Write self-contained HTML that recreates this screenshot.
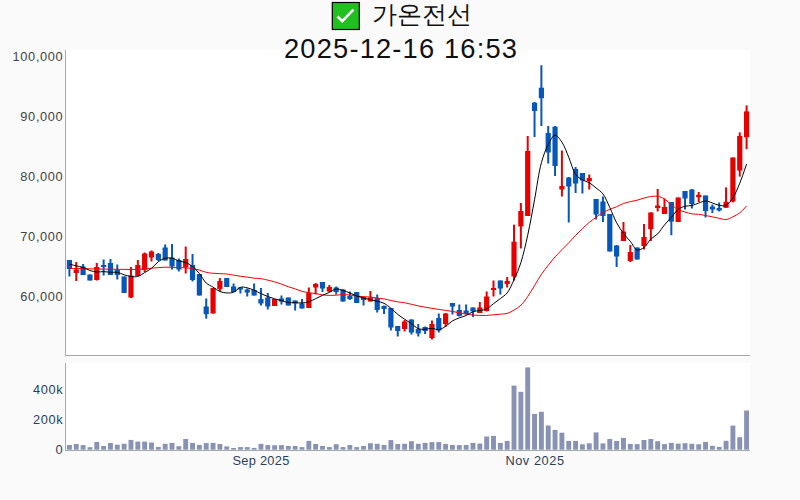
<!DOCTYPE html>
<html><head><meta charset="utf-8">
<style>
html,body{margin:0;padding:0;background:#fafafa;}
body{width:800px;height:500px;overflow:hidden;position:relative;font-family:"Liberation Sans",sans-serif;}
svg{position:absolute;left:0;top:0;}

</style></head><body>
<svg width="800" height="500" viewBox="0 0 800 500">
<rect x="0" y="0" width="800" height="500" fill="#fafafa"/>
<rect x="66" y="50" width="684" height="305" fill="#ffffff"/>
<rect x="66" y="363" width="684" height="87" fill="#ffffff"/>
<g shape-rendering="crispEdges">
<rect x="65" y="50" width="1" height="306" fill="#a8a8a8"/>
<rect x="65" y="355" width="685" height="1" fill="#a8a8a8"/>
<rect x="65" y="363" width="1" height="88" fill="#a8a8a8"/>
<rect x="65" y="450" width="685" height="1" fill="#a8a8a8"/>
</g>
<g fill="#8892b5">
<rect x="66.97" y="445.00" width="4.9" height="4.70"/>
<rect x="73.81" y="444.00" width="4.9" height="5.70"/>
<rect x="80.65" y="445.10" width="4.9" height="4.60"/>
<rect x="87.49" y="447.20" width="4.9" height="2.50"/>
<rect x="94.33" y="442.00" width="4.9" height="7.70"/>
<rect x="101.17" y="446.00" width="4.9" height="3.70"/>
<rect x="108.01" y="443.00" width="4.9" height="6.70"/>
<rect x="114.85" y="444.70" width="4.9" height="5.00"/>
<rect x="121.69" y="443.80" width="4.9" height="5.90"/>
<rect x="128.53" y="439.90" width="4.9" height="9.80"/>
<rect x="135.37" y="441.60" width="4.9" height="8.10"/>
<rect x="142.21" y="441.60" width="4.9" height="8.10"/>
<rect x="149.05" y="442.50" width="4.9" height="7.20"/>
<rect x="155.89" y="446.90" width="4.9" height="2.80"/>
<rect x="162.73" y="443.80" width="4.9" height="5.90"/>
<rect x="169.57" y="442.90" width="4.9" height="6.80"/>
<rect x="176.41" y="446.20" width="4.9" height="3.50"/>
<rect x="183.25" y="439.00" width="4.9" height="10.70"/>
<rect x="190.09" y="442.90" width="4.9" height="6.80"/>
<rect x="196.93" y="444.90" width="4.9" height="4.80"/>
<rect x="203.77" y="443.10" width="4.9" height="6.60"/>
<rect x="210.61" y="442.90" width="4.9" height="6.80"/>
<rect x="217.45" y="444.00" width="4.9" height="5.70"/>
<rect x="224.29" y="446.40" width="4.9" height="3.30"/>
<rect x="231.13" y="448.00" width="4.9" height="1.70"/>
<rect x="237.97" y="447.10" width="4.9" height="2.60"/>
<rect x="244.81" y="447.10" width="4.9" height="2.60"/>
<rect x="251.65" y="447.90" width="4.9" height="1.80"/>
<rect x="258.49" y="443.80" width="4.9" height="5.90"/>
<rect x="265.33" y="445.10" width="4.9" height="4.60"/>
<rect x="272.17" y="445.30" width="4.9" height="4.40"/>
<rect x="279.01" y="445.10" width="4.9" height="4.60"/>
<rect x="285.85" y="446.00" width="4.9" height="3.70"/>
<rect x="292.69" y="446.00" width="4.9" height="3.70"/>
<rect x="299.53" y="447.10" width="4.9" height="2.60"/>
<rect x="306.37" y="440.90" width="4.9" height="8.80"/>
<rect x="313.21" y="444.00" width="4.9" height="5.70"/>
<rect x="320.05" y="446.00" width="4.9" height="3.70"/>
<rect x="326.89" y="447.10" width="4.9" height="2.60"/>
<rect x="333.73" y="444.20" width="4.9" height="5.50"/>
<rect x="340.57" y="447.10" width="4.9" height="2.60"/>
<rect x="347.41" y="445.00" width="4.9" height="4.70"/>
<rect x="354.25" y="447.10" width="4.9" height="2.60"/>
<rect x="361.09" y="446.00" width="4.9" height="3.70"/>
<rect x="367.93" y="443.20" width="4.9" height="6.50"/>
<rect x="374.77" y="443.80" width="4.9" height="5.90"/>
<rect x="381.61" y="445.00" width="4.9" height="4.70"/>
<rect x="388.45" y="440.10" width="4.9" height="9.60"/>
<rect x="395.29" y="444.00" width="4.9" height="5.70"/>
<rect x="402.13" y="443.80" width="4.9" height="5.90"/>
<rect x="408.97" y="441.20" width="4.9" height="8.50"/>
<rect x="415.81" y="443.80" width="4.9" height="5.90"/>
<rect x="422.65" y="442.90" width="4.9" height="6.80"/>
<rect x="429.49" y="442.10" width="4.9" height="7.60"/>
<rect x="436.33" y="442.10" width="4.9" height="7.60"/>
<rect x="443.17" y="444.00" width="4.9" height="5.70"/>
<rect x="450.01" y="445.00" width="4.9" height="4.70"/>
<rect x="456.85" y="445.10" width="4.9" height="4.60"/>
<rect x="463.69" y="445.00" width="4.9" height="4.70"/>
<rect x="470.53" y="442.90" width="4.9" height="6.80"/>
<rect x="477.37" y="443.60" width="4.9" height="6.10"/>
<rect x="484.21" y="436.50" width="4.9" height="13.20"/>
<rect x="491.05" y="435.90" width="4.9" height="13.80"/>
<rect x="497.89" y="442.90" width="4.9" height="6.80"/>
<rect x="504.73" y="440.90" width="4.9" height="8.80"/>
<rect x="511.57" y="385.60" width="4.9" height="64.10"/>
<rect x="518.41" y="391.80" width="4.9" height="57.90"/>
<rect x="525.25" y="367.40" width="4.9" height="82.30"/>
<rect x="532.09" y="413.90" width="4.9" height="35.80"/>
<rect x="538.93" y="411.80" width="4.9" height="37.90"/>
<rect x="545.77" y="425.50" width="4.9" height="24.20"/>
<rect x="552.61" y="429.90" width="4.9" height="19.80"/>
<rect x="559.45" y="432.70" width="4.9" height="17.00"/>
<rect x="566.29" y="440.90" width="4.9" height="8.80"/>
<rect x="573.13" y="440.90" width="4.9" height="8.80"/>
<rect x="579.97" y="444.30" width="4.9" height="5.40"/>
<rect x="586.81" y="443.30" width="4.9" height="6.40"/>
<rect x="593.65" y="432.40" width="4.9" height="17.30"/>
<rect x="600.49" y="443.40" width="4.9" height="6.30"/>
<rect x="607.33" y="439.00" width="4.9" height="10.70"/>
<rect x="614.17" y="441.00" width="4.9" height="8.70"/>
<rect x="621.01" y="437.90" width="4.9" height="11.80"/>
<rect x="627.85" y="443.90" width="4.9" height="5.80"/>
<rect x="634.69" y="444.10" width="4.9" height="5.60"/>
<rect x="641.53" y="440.00" width="4.9" height="9.70"/>
<rect x="648.37" y="439.00" width="4.9" height="10.70"/>
<rect x="655.21" y="441.20" width="4.9" height="8.50"/>
<rect x="662.05" y="444.10" width="4.9" height="5.60"/>
<rect x="668.89" y="442.90" width="4.9" height="6.80"/>
<rect x="675.73" y="443.60" width="4.9" height="6.10"/>
<rect x="682.57" y="443.20" width="4.9" height="6.50"/>
<rect x="689.41" y="443.80" width="4.9" height="5.90"/>
<rect x="696.25" y="444.30" width="4.9" height="5.40"/>
<rect x="703.09" y="441.90" width="4.9" height="7.80"/>
<rect x="709.93" y="445.80" width="4.9" height="3.90"/>
<rect x="716.77" y="446.90" width="4.9" height="2.80"/>
<rect x="723.61" y="440.80" width="4.9" height="8.90"/>
<rect x="730.45" y="425.60" width="4.9" height="24.10"/>
<rect x="737.29" y="437.20" width="4.9" height="12.50"/>
<rect x="744.13" y="410.50" width="4.9" height="39.20"/>
</g>
<g>
<rect x="68.42" y="260.00" width="2" height="16.50" fill="#0757ba"/>
<rect x="66.82" y="260.00" width="5.2" height="9.00" fill="#0757ba"/>
<rect x="75.26" y="262.00" width="2" height="19.00" fill="#e60000"/>
<rect x="73.66" y="269.50" width="5.2" height="3.50" fill="#e60000"/>
<rect x="82.10" y="264.00" width="2" height="11.00" fill="#0757ba"/>
<rect x="80.50" y="266.50" width="5.2" height="8.50" fill="#0757ba"/>
<rect x="88.94" y="274.50" width="2" height="6.00" fill="#0757ba"/>
<rect x="87.34" y="274.50" width="5.2" height="6.00" fill="#0757ba"/>
<rect x="95.78" y="263.00" width="2" height="17.50" fill="#e60000"/>
<rect x="94.18" y="267.00" width="5.2" height="13.00" fill="#e60000"/>
<rect x="102.62" y="259.50" width="2" height="16.00" fill="#0757ba"/>
<rect x="101.02" y="265.00" width="5.2" height="2.00" fill="#0757ba"/>
<rect x="109.46" y="259.00" width="2" height="16.00" fill="#0757ba"/>
<rect x="107.86" y="263.00" width="5.2" height="12.00" fill="#0757ba"/>
<rect x="116.30" y="264.50" width="2" height="15.00" fill="#0757ba"/>
<rect x="114.70" y="270.00" width="5.2" height="5.00" fill="#0757ba"/>
<rect x="123.14" y="276.50" width="2" height="16.50" fill="#0757ba"/>
<rect x="121.54" y="276.50" width="5.2" height="16.50" fill="#0757ba"/>
<rect x="129.98" y="267.00" width="2" height="31.00" fill="#e60000"/>
<rect x="128.38" y="275.50" width="5.2" height="22.00" fill="#e60000"/>
<rect x="136.82" y="260.00" width="2" height="16.00" fill="#e60000"/>
<rect x="135.22" y="265.00" width="5.2" height="11.00" fill="#e60000"/>
<rect x="143.66" y="252.50" width="2" height="19.50" fill="#e60000"/>
<rect x="142.06" y="253.50" width="5.2" height="16.50" fill="#e60000"/>
<rect x="150.50" y="250.50" width="2" height="11.00" fill="#e60000"/>
<rect x="148.90" y="251.50" width="5.2" height="6.00" fill="#e60000"/>
<rect x="157.34" y="253.00" width="2" height="8.00" fill="#0757ba"/>
<rect x="155.74" y="254.00" width="5.2" height="6.00" fill="#0757ba"/>
<rect x="164.18" y="244.50" width="2" height="16.00" fill="#0757ba"/>
<rect x="162.58" y="247.50" width="5.2" height="13.00" fill="#0757ba"/>
<rect x="171.02" y="244.00" width="2" height="25.50" fill="#0757ba"/>
<rect x="169.42" y="257.50" width="5.2" height="9.00" fill="#0757ba"/>
<rect x="177.86" y="258.50" width="2" height="13.00" fill="#0757ba"/>
<rect x="176.26" y="260.00" width="5.2" height="9.50" fill="#0757ba"/>
<rect x="184.70" y="246.50" width="2" height="27.00" fill="#e60000"/>
<rect x="183.10" y="259.00" width="5.2" height="8.50" fill="#e60000"/>
<rect x="191.54" y="254.00" width="2" height="27.50" fill="#0757ba"/>
<rect x="189.94" y="265.00" width="5.2" height="15.00" fill="#0757ba"/>
<rect x="198.38" y="274.00" width="2" height="21.50" fill="#0757ba"/>
<rect x="196.78" y="274.00" width="5.2" height="21.50" fill="#0757ba"/>
<rect x="205.22" y="298.40" width="2" height="20.30" fill="#0757ba"/>
<rect x="203.62" y="306.50" width="5.2" height="7.70" fill="#0757ba"/>
<rect x="212.06" y="288.00" width="2" height="25.50" fill="#e60000"/>
<rect x="210.46" y="288.00" width="5.2" height="25.50" fill="#e60000"/>
<rect x="218.90" y="278.00" width="2" height="13.00" fill="#e60000"/>
<rect x="217.30" y="281.00" width="5.2" height="8.00" fill="#e60000"/>
<rect x="225.74" y="278.00" width="2" height="9.00" fill="#0757ba"/>
<rect x="224.14" y="278.00" width="5.2" height="9.00" fill="#0757ba"/>
<rect x="232.58" y="283.50" width="2" height="8.50" fill="#0757ba"/>
<rect x="230.98" y="286.50" width="5.2" height="5.50" fill="#0757ba"/>
<rect x="239.42" y="287.50" width="2" height="6.00" fill="#0757ba"/>
<rect x="237.82" y="287.50" width="5.2" height="2.00" fill="#0757ba"/>
<rect x="246.26" y="288.50" width="2" height="8.00" fill="#0757ba"/>
<rect x="244.66" y="289.50" width="5.2" height="3.00" fill="#0757ba"/>
<rect x="253.10" y="283.50" width="2" height="12.00" fill="#0757ba"/>
<rect x="251.50" y="290.00" width="5.2" height="5.50" fill="#0757ba"/>
<rect x="259.94" y="288.00" width="2" height="17.50" fill="#0757ba"/>
<rect x="258.34" y="299.00" width="5.2" height="4.50" fill="#0757ba"/>
<rect x="266.78" y="293.00" width="2" height="16.50" fill="#0757ba"/>
<rect x="265.18" y="297.50" width="5.2" height="9.00" fill="#0757ba"/>
<rect x="273.62" y="299.00" width="2" height="7.00" fill="#e60000"/>
<rect x="272.02" y="299.00" width="5.2" height="7.00" fill="#e60000"/>
<rect x="280.46" y="295.50" width="2" height="9.00" fill="#0757ba"/>
<rect x="278.86" y="298.50" width="5.2" height="3.00" fill="#0757ba"/>
<rect x="287.30" y="297.50" width="2" height="8.00" fill="#0757ba"/>
<rect x="285.70" y="297.50" width="5.2" height="8.00" fill="#0757ba"/>
<rect x="294.14" y="300.50" width="2" height="10.00" fill="#0757ba"/>
<rect x="292.54" y="300.50" width="5.2" height="3.00" fill="#0757ba"/>
<rect x="300.98" y="299.00" width="2" height="9.50" fill="#0757ba"/>
<rect x="299.38" y="303.50" width="5.2" height="5.00" fill="#0757ba"/>
<rect x="307.82" y="287.50" width="2" height="20.50" fill="#e60000"/>
<rect x="306.22" y="293.00" width="5.2" height="15.00" fill="#e60000"/>
<rect x="314.66" y="283.00" width="2" height="11.50" fill="#e60000"/>
<rect x="313.06" y="284.00" width="5.2" height="3.50" fill="#e60000"/>
<rect x="321.50" y="282.00" width="2" height="10.00" fill="#0757ba"/>
<rect x="319.90" y="282.00" width="5.2" height="6.50" fill="#0757ba"/>
<rect x="328.34" y="285.00" width="2" height="7.00" fill="#e60000"/>
<rect x="326.74" y="287.00" width="5.2" height="4.50" fill="#e60000"/>
<rect x="335.18" y="286.50" width="2" height="8.00" fill="#0757ba"/>
<rect x="333.58" y="287.50" width="5.2" height="4.50" fill="#0757ba"/>
<rect x="342.02" y="289.50" width="2" height="12.00" fill="#0757ba"/>
<rect x="340.42" y="289.50" width="5.2" height="12.00" fill="#0757ba"/>
<rect x="348.86" y="291.50" width="2" height="8.50" fill="#0757ba"/>
<rect x="347.26" y="296.00" width="5.2" height="3.00" fill="#0757ba"/>
<rect x="355.70" y="292.00" width="2" height="11.00" fill="#0757ba"/>
<rect x="354.10" y="292.00" width="5.2" height="11.00" fill="#0757ba"/>
<rect x="362.54" y="296.50" width="2" height="9.00" fill="#0757ba"/>
<rect x="360.94" y="297.00" width="5.2" height="3.00" fill="#0757ba"/>
<rect x="369.38" y="291.00" width="2" height="10.50" fill="#e60000"/>
<rect x="367.78" y="297.50" width="5.2" height="4.00" fill="#e60000"/>
<rect x="376.22" y="294.50" width="2" height="18.00" fill="#0757ba"/>
<rect x="374.62" y="298.00" width="5.2" height="12.00" fill="#0757ba"/>
<rect x="383.06" y="305.50" width="2" height="8.50" fill="#0757ba"/>
<rect x="381.46" y="306.00" width="5.2" height="3.00" fill="#0757ba"/>
<rect x="389.90" y="308.00" width="2" height="22.50" fill="#0757ba"/>
<rect x="388.30" y="308.00" width="5.2" height="19.50" fill="#0757ba"/>
<rect x="396.74" y="326.00" width="2" height="10.50" fill="#0757ba"/>
<rect x="395.14" y="326.00" width="5.2" height="5.00" fill="#0757ba"/>
<rect x="403.58" y="320.00" width="2" height="11.50" fill="#e60000"/>
<rect x="401.98" y="321.50" width="5.2" height="7.50" fill="#e60000"/>
<rect x="410.42" y="319.50" width="2" height="15.00" fill="#0757ba"/>
<rect x="408.82" y="319.50" width="5.2" height="13.00" fill="#0757ba"/>
<rect x="417.26" y="324.00" width="2" height="12.50" fill="#0757ba"/>
<rect x="415.66" y="329.00" width="5.2" height="4.50" fill="#0757ba"/>
<rect x="424.10" y="326.50" width="2" height="7.50" fill="#0757ba"/>
<rect x="422.50" y="327.00" width="5.2" height="4.00" fill="#0757ba"/>
<rect x="430.94" y="320.50" width="2" height="19.00" fill="#e60000"/>
<rect x="429.34" y="324.00" width="5.2" height="14.00" fill="#e60000"/>
<rect x="437.78" y="313.50" width="2" height="19.00" fill="#0757ba"/>
<rect x="436.18" y="318.00" width="5.2" height="12.50" fill="#0757ba"/>
<rect x="444.62" y="313.00" width="2" height="14.00" fill="#e60000"/>
<rect x="443.02" y="313.50" width="5.2" height="10.50" fill="#e60000"/>
<rect x="451.46" y="303.00" width="2" height="11.50" fill="#0757ba"/>
<rect x="449.86" y="303.00" width="5.2" height="3.50" fill="#0757ba"/>
<rect x="458.30" y="304.50" width="2" height="12.00" fill="#0757ba"/>
<rect x="456.70" y="310.00" width="5.2" height="6.00" fill="#0757ba"/>
<rect x="465.14" y="304.50" width="2" height="10.00" fill="#0757ba"/>
<rect x="463.54" y="310.50" width="5.2" height="3.50" fill="#0757ba"/>
<rect x="471.98" y="307.50" width="2" height="9.50" fill="#0757ba"/>
<rect x="470.38" y="307.50" width="5.2" height="4.00" fill="#0757ba"/>
<rect x="478.82" y="302.00" width="2" height="11.00" fill="#e60000"/>
<rect x="477.22" y="307.50" width="5.2" height="5.50" fill="#e60000"/>
<rect x="485.66" y="291.50" width="2" height="20.00" fill="#e60000"/>
<rect x="484.06" y="296.50" width="5.2" height="14.50" fill="#e60000"/>
<rect x="492.50" y="280.50" width="2" height="16.00" fill="#e60000"/>
<rect x="490.90" y="288.00" width="5.2" height="2.00" fill="#e60000"/>
<rect x="499.34" y="280.50" width="2" height="14.00" fill="#0757ba"/>
<rect x="497.74" y="280.50" width="5.2" height="8.00" fill="#0757ba"/>
<rect x="506.18" y="277.00" width="2" height="10.50" fill="#e60000"/>
<rect x="504.58" y="281.00" width="5.2" height="3.00" fill="#e60000"/>
<rect x="513.02" y="224.70" width="2" height="55.80" fill="#e60000"/>
<rect x="511.42" y="241.70" width="5.2" height="34.80" fill="#e60000"/>
<rect x="519.86" y="203.00" width="2" height="45.50" fill="#e60000"/>
<rect x="518.26" y="211.00" width="5.2" height="15.40" fill="#e60000"/>
<rect x="526.70" y="136.00" width="2" height="80.00" fill="#e60000"/>
<rect x="525.10" y="151.00" width="5.2" height="65.00" fill="#e60000"/>
<rect x="533.54" y="102.00" width="2" height="35.00" fill="#0757ba"/>
<rect x="531.94" y="102.70" width="5.2" height="8.30" fill="#0757ba"/>
<rect x="540.38" y="65.20" width="2" height="60.80" fill="#0757ba"/>
<rect x="538.78" y="87.70" width="5.2" height="10.50" fill="#0757ba"/>
<rect x="547.22" y="126.00" width="2" height="37.50" fill="#0757ba"/>
<rect x="545.62" y="133.00" width="5.2" height="19.50" fill="#0757ba"/>
<rect x="554.06" y="126.00" width="2" height="50.00" fill="#0757ba"/>
<rect x="552.46" y="126.70" width="5.2" height="39.30" fill="#0757ba"/>
<rect x="560.90" y="150.50" width="2" height="46.00" fill="#e60000"/>
<rect x="559.30" y="186.00" width="5.2" height="3.50" fill="#e60000"/>
<rect x="567.74" y="177.00" width="2" height="45.50" fill="#0757ba"/>
<rect x="566.14" y="177.50" width="5.2" height="9.00" fill="#0757ba"/>
<rect x="574.58" y="167.00" width="2" height="26.00" fill="#0757ba"/>
<rect x="572.98" y="169.00" width="5.2" height="14.50" fill="#0757ba"/>
<rect x="581.42" y="173.00" width="2" height="20.50" fill="#0757ba"/>
<rect x="579.82" y="173.00" width="5.2" height="7.50" fill="#0757ba"/>
<rect x="588.26" y="174.50" width="2" height="15.00" fill="#e60000"/>
<rect x="586.66" y="178.00" width="5.2" height="3.00" fill="#e60000"/>
<rect x="595.10" y="199.00" width="2" height="20.50" fill="#0757ba"/>
<rect x="593.50" y="199.00" width="5.2" height="15.50" fill="#0757ba"/>
<rect x="601.94" y="196.50" width="2" height="25.50" fill="#0757ba"/>
<rect x="600.34" y="201.50" width="5.2" height="14.50" fill="#0757ba"/>
<rect x="608.78" y="214.00" width="2" height="37.50" fill="#0757ba"/>
<rect x="607.18" y="214.00" width="5.2" height="37.50" fill="#0757ba"/>
<rect x="615.62" y="245.00" width="2" height="22.00" fill="#0757ba"/>
<rect x="614.02" y="245.50" width="5.2" height="11.00" fill="#0757ba"/>
<rect x="622.46" y="222.00" width="2" height="19.00" fill="#e60000"/>
<rect x="620.86" y="231.50" width="5.2" height="9.50" fill="#e60000"/>
<rect x="629.30" y="245.00" width="2" height="17.00" fill="#e60000"/>
<rect x="627.70" y="252.00" width="5.2" height="9.00" fill="#e60000"/>
<rect x="636.14" y="247.50" width="2" height="12.00" fill="#0757ba"/>
<rect x="634.54" y="247.50" width="5.2" height="12.00" fill="#0757ba"/>
<rect x="642.98" y="224.00" width="2" height="25.50" fill="#e60000"/>
<rect x="641.38" y="237.00" width="5.2" height="9.00" fill="#e60000"/>
<rect x="649.82" y="212.40" width="2" height="28.60" fill="#e60000"/>
<rect x="648.22" y="212.50" width="5.2" height="16.70" fill="#e60000"/>
<rect x="656.66" y="189.00" width="2" height="22.50" fill="#e60000"/>
<rect x="655.06" y="205.50" width="5.2" height="2.50" fill="#e60000"/>
<rect x="663.50" y="198.50" width="2" height="15.50" fill="#e60000"/>
<rect x="661.90" y="207.00" width="5.2" height="7.00" fill="#e60000"/>
<rect x="670.34" y="202.00" width="2" height="33.20" fill="#0757ba"/>
<rect x="668.74" y="202.00" width="5.2" height="19.60" fill="#0757ba"/>
<rect x="677.18" y="197.50" width="2" height="24.50" fill="#e60000"/>
<rect x="675.58" y="197.50" width="5.2" height="24.50" fill="#e60000"/>
<rect x="684.02" y="191.00" width="2" height="18.50" fill="#0757ba"/>
<rect x="682.42" y="191.00" width="5.2" height="7.50" fill="#0757ba"/>
<rect x="690.86" y="189.00" width="2" height="19.50" fill="#0757ba"/>
<rect x="689.26" y="189.50" width="5.2" height="14.50" fill="#0757ba"/>
<rect x="697.70" y="192.00" width="2" height="10.00" fill="#e60000"/>
<rect x="696.10" y="194.80" width="5.2" height="2.40" fill="#e60000"/>
<rect x="704.54" y="195.50" width="2" height="22.00" fill="#0757ba"/>
<rect x="702.94" y="195.50" width="5.2" height="15.50" fill="#0757ba"/>
<rect x="711.38" y="204.50" width="2" height="8.50" fill="#0757ba"/>
<rect x="709.78" y="206.50" width="5.2" height="3.00" fill="#0757ba"/>
<rect x="718.22" y="202.50" width="2" height="9.00" fill="#0757ba"/>
<rect x="716.62" y="208.00" width="5.2" height="2.50" fill="#0757ba"/>
<rect x="725.06" y="187.40" width="2" height="20.40" fill="#e60000"/>
<rect x="723.46" y="201.80" width="5.2" height="6.00" fill="#e60000"/>
<rect x="731.90" y="157.50" width="2" height="44.90" fill="#e60000"/>
<rect x="730.30" y="157.50" width="5.2" height="44.00" fill="#e60000"/>
<rect x="738.74" y="132.40" width="2" height="44.20" fill="#e60000"/>
<rect x="737.14" y="136.00" width="5.2" height="34.60" fill="#e60000"/>
<rect x="745.58" y="105.40" width="2" height="43.80" fill="#e60000"/>
<rect x="743.98" y="111.40" width="5.2" height="25.80" fill="#e60000"/>
</g>
<path d="M69.42,268.40Q73.98,268.47 76.26,268.50C78.54,268.53 80.82,268.55 83.10,268.60C85.38,268.65 87.66,268.73 89.94,268.80C92.22,268.87 94.50,268.95 96.78,269.00C99.06,269.05 101.34,269.07 103.62,269.10C105.90,269.13 108.18,269.17 110.46,269.20C112.74,269.23 115.02,269.27 117.30,269.30C119.58,269.33 121.86,269.37 124.14,269.40C126.42,269.43 128.70,269.50 130.98,269.50C133.26,269.50 135.54,269.48 137.82,269.40C140.10,269.32 142.38,269.20 144.66,269.00C146.94,268.80 149.22,268.43 151.50,268.20C153.78,267.97 156.06,267.77 158.34,267.60C160.62,267.43 162.90,267.25 165.18,267.20C167.46,267.15 169.74,267.23 172.02,267.30C174.30,267.37 176.58,267.50 178.86,267.60C181.14,267.70 183.42,267.75 185.70,267.90C187.98,268.05 190.27,268.14 192.54,268.50C194.83,268.86 197.11,269.44 199.38,270.07C201.67,270.72 203.92,271.80 206.22,272.33C208.48,272.86 210.78,273.04 213.06,273.26C215.34,273.48 217.62,273.54 219.90,273.66C222.18,273.78 224.47,273.74 226.74,273.99C229.03,274.23 231.30,274.76 233.58,275.13C235.86,275.51 238.14,275.93 240.42,276.26C242.70,276.59 244.98,276.82 247.26,277.13C249.54,277.45 251.82,277.90 254.10,278.16C256.38,278.42 258.67,278.36 260.94,278.69C263.23,279.01 265.50,279.61 267.78,280.13C270.06,280.66 272.35,281.17 274.62,281.83C276.91,282.50 279.19,283.32 281.46,284.13C283.75,284.95 286.01,285.94 288.30,286.74C290.57,287.53 292.87,288.15 295.14,288.91C297.43,289.67 299.68,290.67 301.98,291.31C304.24,291.94 306.53,292.36 308.82,292.74C311.09,293.11 313.39,293.20 315.66,293.56C317.95,293.93 320.21,294.63 322.50,294.94C324.77,295.24 327.06,295.34 329.34,295.38C331.62,295.43 333.90,295.34 336.18,295.21C338.46,295.08 340.74,294.61 343.02,294.57C345.30,294.54 347.58,294.78 349.86,295.02C352.14,295.27 354.42,295.75 356.70,296.02C358.98,296.30 361.26,296.50 363.54,296.68C365.82,296.85 368.11,296.82 370.38,297.05C372.67,297.28 374.94,297.77 377.22,298.07C379.50,298.38 381.79,298.50 384.06,298.90C386.35,299.30 388.62,300.00 390.90,300.50C393.18,300.99 395.45,301.50 397.74,301.88C400.01,302.24 402.31,302.32 404.58,302.73C406.87,303.13 409.14,303.77 411.42,304.30C413.70,304.83 415.97,305.42 418.26,305.90C420.53,306.38 422.82,306.77 425.10,307.18C427.38,307.57 429.66,307.93 431.94,308.30C434.22,308.67 436.50,309.05 438.78,309.40C441.06,309.75 443.34,310.08 445.62,310.43C447.90,310.77 450.18,311.05 452.46,311.45C454.74,311.85 457.02,312.39 459.30,312.82C461.58,313.26 463.86,313.70 466.14,314.07C468.42,314.45 470.70,314.82 472.98,315.05C475.26,315.28 477.54,315.39 479.82,315.45C482.10,315.51 484.38,315.54 486.66,315.43C488.94,315.31 491.22,314.98 493.50,314.77C495.78,314.57 498.06,314.43 500.34,314.20C502.62,313.97 504.95,314.03 507.18,313.38C509.52,312.69 511.79,311.37 514.02,310.06C516.36,308.69 518.72,307.29 520.86,305.26C523.33,302.92 525.50,299.68 527.70,296.53C530.08,293.14 532.27,289.23 534.54,285.53C536.83,281.81 539.01,277.76 541.38,274.27C543.58,271.04 545.91,268.20 548.22,265.27C550.48,262.41 552.73,259.53 555.06,256.89C557.29,254.37 559.61,252.11 561.90,249.74C564.17,247.40 566.48,245.14 568.74,242.77C571.04,240.37 573.27,237.79 575.58,235.42C577.84,233.10 580.12,230.87 582.42,228.67C584.68,226.51 586.93,224.28 589.26,222.34C591.49,220.49 593.81,218.94 596.10,217.27C598.37,215.61 600.59,213.71 602.94,212.37C605.16,211.11 607.49,210.32 609.78,209.37C612.05,208.43 614.36,207.69 616.62,206.72C618.92,205.73 621.14,204.32 623.46,203.47C625.70,202.65 628.01,202.21 630.30,201.67C632.57,201.13 634.88,200.82 637.14,200.22C639.44,199.61 641.68,198.63 643.98,198.02C646.24,197.42 648.53,196.85 650.82,196.56C653.09,196.27 655.42,195.89 657.66,196.28C659.99,196.69 662.31,197.79 664.50,199.08C666.89,200.50 669.04,202.84 671.34,204.62C673.60,206.37 675.80,208.44 678.18,209.68C680.37,210.82 682.73,211.28 685.02,211.98C687.29,212.68 689.56,213.49 691.86,213.88C694.12,214.26 696.43,214.04 698.70,214.32C700.99,214.60 703.26,215.12 705.54,215.54C707.82,215.97 710.10,216.38 712.38,216.84C714.66,217.31 716.94,217.90 719.22,218.34C721.50,218.79 723.81,219.77 726.06,219.53C728.38,219.29 730.66,217.87 732.90,216.78C735.22,215.66 737.57,214.55 739.74,212.88Q742.15,211.03 746.58,205.98" fill="none" stroke="#ff0000" stroke-width="1"/>
<path d="M69.42,264.20Q73.98,265.25 76.26,265.80C78.54,266.35 80.85,266.73 83.10,267.50C85.41,268.29 87.62,269.75 89.94,270.50C92.18,271.23 94.49,271.82 96.78,272.00C99.05,272.18 101.34,271.55 103.62,271.60C105.90,271.65 108.18,272.18 110.46,272.30C112.74,272.42 115.05,271.90 117.30,272.30C119.62,272.71 121.84,274.10 124.14,274.80C126.40,275.49 128.68,276.22 130.98,276.50C133.24,276.78 135.61,277.08 137.82,276.50C140.19,275.87 142.39,273.96 144.66,272.60C146.95,271.23 149.31,270.02 151.50,268.30C153.88,266.44 155.92,263.41 158.34,261.70C160.51,260.17 162.83,258.87 165.18,258.30C167.40,257.76 169.78,257.78 172.02,258.20C174.35,258.64 176.55,260.28 178.86,261.00C181.11,261.70 183.49,261.63 185.70,262.50C188.05,263.42 190.37,264.80 192.54,266.50C194.95,268.39 197.19,270.89 199.38,273.50C201.77,276.35 203.67,280.69 206.22,283.04C208.32,284.97 210.79,285.73 213.06,287.14C215.35,288.56 217.53,290.57 219.90,291.54C222.10,292.44 224.45,292.83 226.74,292.94C229.01,293.05 231.41,293.07 233.58,292.24C235.99,291.32 238.01,287.98 240.42,287.30C242.59,286.68 245.01,287.32 247.26,287.80C249.58,288.30 251.84,289.35 254.10,290.30C256.40,291.27 258.65,292.56 260.94,293.60C263.21,294.63 265.48,295.63 267.78,296.50C270.04,297.36 272.33,298.11 274.62,298.80C276.89,299.48 279.18,299.97 281.46,300.60C283.74,301.23 286.00,302.27 288.30,302.60C290.56,302.92 292.86,302.53 295.14,302.60C297.42,302.67 299.71,303.13 301.98,303.00C304.27,302.87 306.58,302.49 308.82,301.80C311.15,301.08 313.39,299.78 315.66,298.70C317.95,297.61 320.20,296.36 322.50,295.30C324.76,294.26 327.07,293.43 329.34,292.40C331.63,291.36 333.85,289.41 336.18,289.10C338.41,288.81 340.77,289.76 343.02,290.40C345.33,291.05 347.59,292.09 349.86,293.00C352.15,293.92 354.40,295.04 356.70,295.90C358.96,296.74 361.25,297.48 363.54,298.10C365.81,298.71 368.10,299.07 370.38,299.60C372.66,300.13 374.95,300.69 377.22,301.30C379.51,301.92 381.87,302.23 384.06,303.30C386.44,304.46 388.67,306.40 390.90,308.20C393.24,310.08 395.40,312.53 397.74,314.40C399.97,316.18 402.29,317.64 404.58,319.20C406.85,320.74 409.16,322.14 411.42,323.70C413.72,325.28 415.85,327.69 418.26,328.60C420.44,329.42 422.82,329.35 425.10,329.30C427.38,329.25 429.67,328.24 431.94,328.30C434.23,328.36 436.55,329.99 438.78,329.70C441.11,329.40 443.41,327.70 445.62,326.30C447.98,324.80 450.09,322.33 452.46,320.90C454.66,319.58 457.00,318.81 459.30,317.90C461.56,317.01 463.90,316.51 466.14,315.50C468.47,314.46 470.63,312.53 472.98,311.70C475.20,310.92 477.55,310.96 479.82,310.50C482.11,310.03 484.48,309.92 486.66,308.90C489.07,307.77 491.22,305.42 493.50,303.70C495.78,301.99 498.08,300.38 500.34,298.60C502.64,296.78 505.12,295.45 507.18,292.90C509.83,289.60 511.85,284.47 514.02,279.74C516.44,274.47 518.78,269.09 520.86,262.64C523.44,254.65 525.54,245.00 527.70,235.24C530.14,224.20 532.28,211.70 534.54,199.74C536.84,187.55 538.58,172.85 541.38,162.78C543.39,155.53 545.56,149.48 548.22,144.54C550.27,140.73 552.67,135.31 555.06,135.14C557.25,134.98 559.85,139.14 561.90,142.14C564.57,146.04 566.52,152.03 568.74,157.24C571.08,162.73 572.71,170.38 575.58,174.30C577.57,177.02 580.03,178.48 582.42,179.90C584.61,181.20 587.06,181.43 589.26,182.70C591.64,184.07 593.84,186.16 596.10,188.00C598.41,189.88 600.89,191.27 602.94,193.90C605.60,197.31 607.55,202.82 609.78,207.50C612.11,212.40 614.16,218.16 616.62,222.70C618.76,226.67 621.06,230.18 623.46,233.40C625.64,236.32 628.05,238.58 630.30,241.30C632.61,244.10 634.57,249.27 637.14,250.00C639.23,250.59 641.88,248.99 643.98,247.50C646.54,245.68 648.39,241.45 650.82,239.10C652.98,237.01 655.52,236.04 657.66,233.90C660.12,231.44 662.16,227.72 664.50,224.90C666.72,222.22 669.07,219.88 671.34,217.32C673.63,214.73 675.68,211.31 678.18,209.42C680.30,207.81 682.68,206.87 685.02,206.22C687.25,205.60 689.61,206.03 691.86,205.52C694.17,205.00 696.41,203.84 698.70,203.08C700.97,202.32 703.26,200.98 705.54,200.96C707.82,200.94 710.11,202.23 712.38,202.96C714.67,203.70 716.91,204.97 719.22,205.36C721.47,205.74 723.96,206.25 726.06,205.32C728.61,204.19 730.83,200.95 732.90,197.86C735.51,193.96 737.58,188.52 739.74,183.26Q742.17,177.35 746.58,164.04" fill="none" stroke="#000000" stroke-width="1"/>
<g font-family="Liberation Sans, sans-serif" font-size="12.8" fill="#444444" text-anchor="end" letter-spacing="0.65">
<text x="63.4" y="60.9">100,000</text>
<text x="63.4" y="120.9">90,000</text>
<text x="63.4" y="180.9">80,000</text>
<text x="63.4" y="240.9">70,000</text>
<text x="63.4" y="300.9">60,000</text>
</g>
<g font-family="Liberation Sans, sans-serif" font-size="12.8" fill="#2a3f5f" text-anchor="end" letter-spacing="0.6">
<text x="63.2" y="394">400k</text>
<text x="63.2" y="424">200k</text>
<text x="63.2" y="454">0</text>
</g>
<g font-family="Liberation Sans, sans-serif" font-size="12.8" fill="#2a3f5f" text-anchor="middle" letter-spacing="0.3">
<text x="261" y="465">Sep 2025</text>
<text x="535" y="465" letter-spacing="0.55">Nov 2025</text>
</g>
<g>
<rect x="332.3" y="2.5" width="27" height="27" fill="#1fc01f" stroke="#000" stroke-width="1.2"/>
<path d="M337.5,16.5 L342.2,21.2 L353.5,9.7" fill="none" stroke="#fff" stroke-width="2.6"/>
</g>
<text x="372" y="23" font-family="Liberation Sans, sans-serif" font-size="25" fill="#111">가온전선</text>
<text x="284" y="58.2" font-family="Liberation Sans, sans-serif" font-size="27.3" fill="#111" textLength="233" lengthAdjust="spacing">2025-12-16 16:53</text>
</svg>
</body></html>
